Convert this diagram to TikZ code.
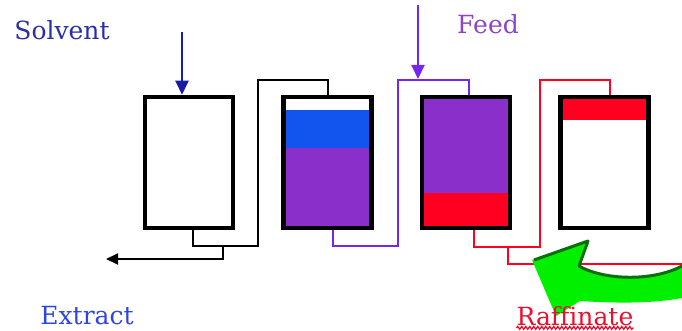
\documentclass[tikz,border=0pt]{standalone}
\usepackage{fontspec}
\setmainfont{DejaVu Serif}[Ligatures=NoCommon]
\usetikzlibrary{arrows.meta,backgrounds,calc,decorations.pathmorphing,positioning}
\definecolor{Ink}{HTML}{000000}
\definecolor{Navy}{HTML}{1A1AA8}
\definecolor{SolventBlue}{HTML}{2A2FA8}
\definecolor{ExtractBlue}{HTML}{2F45E0}
\definecolor{Layer}{HTML}{1155EE}
\definecolor{Violet}{HTML}{8A2FCA}
\definecolor{FeedLine}{HTML}{7426F2}
\definecolor{FeedText}{HTML}{8A45C8}
\definecolor{Crimson}{HTML}{FF0020}
\definecolor{RaffText}{HTML}{E8102E}
\definecolor{Lime}{HTML}{00F000}
\definecolor{Forest}{HTML}{0A6E0A}
\tikzset{
  vessel/.style={
    draw=Ink, line width=4.5pt, inner sep=0pt,
    minimum width=88pt, minimum height=131pt
  },
  tag/.style={inner sep=0pt, font=\fontsize{25}{30}\selectfont},
  link/.style={line width=2pt, draw=Ink},
  inflow/.style={-{Triangle[width=13pt,length=14pt]}, line width=2pt},
  outflow/.style={-{Triangle[width=11pt,length=12pt]}, line width=2pt, draw=Ink},
  squiggle/.style={draw=Crimson, line width=1.2pt,
    decorate, decoration={snake, amplitude=1.5pt, segment length=4pt}}
}

\begin{document}
\begin{tikzpicture}[x=1pt,y=-1pt,node distance=46pt]
    \useasboundingbox (0,0) rectangle (682,331);
    % four mixer-settler stages
    \node[vessel] (b1) at (189,162.5) {};
    \node[vessel,right=of b1] (b2) {};
    \node[vessel,right=of b2] (b3) {};
    \node[vessel,right=of b3] (b4) {};
    \begin{scope}[on background layer]
      \fill[white] (0,0) rectangle (682,331);
      \fill[Layer] ($(b2.north west)+(0,15)$) rectangle ($(b2.north east)+(0,53)$);
      \fill[Violet] ($(b2.north west)+(0,53)$) rectangle (b2.south east);
      \fill[Violet] (b3.north west) rectangle ($(b3.south east)+(0,-37)$);
      \fill[Crimson] ($(b3.south west)+(0,-37)$) rectangle (b3.south east);
      \fill[Crimson] ($(b4.north west)+(0,2)$) rectangle ($(b4.north east)+(0,25)$);
    \end{scope}
    % free ends
    \coordinate (solvin) at (182,32);
    \coordinate (feedin) at (418,5);
    \coordinate (feedtip) at (418,79);
    \coordinate (tap) at (223,246);
    \coordinate (exout) at (106,259);
    \coordinate (rtap) at (508,247);
    \coordinate (rout) at (682,264);
    % streams between stages
    \draw[link] (b2.north) -- ++(0,-15) -| (258,246) -| ([xshift=4pt]b1.south);
    \draw[link,draw=FeedLine] ([xshift=5pt]b2.south) -- ++(0,16) -| (398,80) -| ([xshift=3pt]b3.north);
    \draw[link,draw=Crimson] ([xshift=8pt]b3.south) -- ++(0,17) -| (540,80) -| ([xshift=5pt]b4.north);
    \draw[link,draw=Crimson] (rtap) |- (rout);
    \draw[outflow] (tap) |- (exout);
    \draw[inflow,draw=Navy] (solvin) -- (solvin |- b1.north);
    \draw[inflow,draw=FeedLine] (feedin) -- (feedtip);
    % green return arrow
    \fill[Lime] (532,260) -- (588,240) -- (578,265)
      .. controls (602,280) and (652,282) .. (682,265) -- (682,298)
      .. controls (650,304) and (612,303) .. (580,301) -- (556,316) -- cycle;
    \draw[Forest,line width=3pt,line join=round] (534,260) -- (588,241) -- (579,266)
      .. controls (603,280) and (652,282) .. (682,266);
    % labels
    \node[tag,text=SolventBlue] (solvent) at (62,30) {Solvent};
    \node[tag,text=FeedText] (feed) at (488,24) {Feed};
    \node[tag,text=ExtractBlue] (extract) at (87,316) {Extract};
    \node[tag,text=RaffText] (raff) at (575,316) {Raffinate};
    \draw[squiggle] ([yshift=-2pt]raff.south west) -- ([yshift=-2pt]raff.south east);
  \end{tikzpicture}
\end{document}
